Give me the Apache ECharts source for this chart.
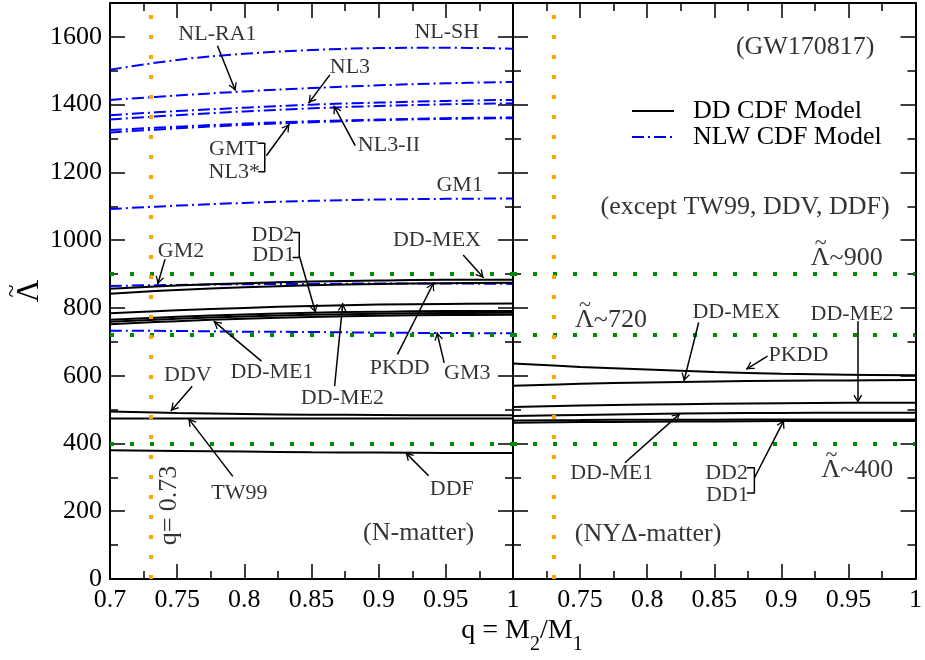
<!DOCTYPE html>
<html>
<head>
<meta charset="utf-8">
<script src="https://cdn.jsdelivr.net/npm/echarts@6/dist/echarts.min.js"></script>
<style>
  html, body { margin: 0; padding: 0; background: #fff; }
  #chart { width: 925px; height: 660px; }
</style>
</head>
<body>
<div id="chart"></div>
<script>
// Mass ratio samples shared by every curve
const qValues = [0.7, 0.75, 0.8, 0.85, 0.9, 0.95, 1.0];

// N-matter, NLW CDF models (tidal deformability vs q)
const nlwNames = ['NL-SH', 'NL-RA1', 'NL3', 'NL3-II', 'GMT', 'NL3*', 'GM1', 'GM2', 'GM3'];
const nlwNL_SH  = [1503, 1532, 1550, 1561, 1567, 1568, 1565];
const nlwNL_RA1 = [1414, 1427, 1439, 1449, 1457, 1463, 1467];
const nlwNL3    = [1369, 1381, 1391, 1400, 1406, 1411, 1414];
const nlwNL3_II = [1356, 1369, 1380, 1389, 1396, 1401, 1404];
const nlwGMT    = [1325, 1335, 1344, 1351, 1356, 1360, 1362];
const nlwNL3s   = [1318, 1330, 1340, 1348, 1354, 1358, 1360];
const nlwGM1    = [1092, 1102, 1110, 1116, 1120, 1122, 1123];
const nlwGM2    = [865, 868, 870, 871, 872, 872, 871];
const nlwGM3    = [733, 732, 730, 729, 727, 726, 725];

// N-matter, DD CDF models
const ddNames = ['DD-MEX', 'PKDD', 'DD-ME2', 'DD2', 'DD1', 'DD-ME1', 'DDV', 'TW99', 'DDF'];
const ddN_MEX = [857, 866, 873, 878, 881, 883, 883];
const ddN_PKDD = [842, 853, 861, 867, 871, 873, 874];
const ddN_ME2 = [784, 793, 800, 806, 810, 812, 813];
const ddN_DD2 = [765, 774, 781, 786, 789, 791, 791];
const ddN_DD1 = [759, 768, 775, 780, 783, 785, 786];
const ddN_ME1 = [752, 761, 768, 773, 777, 779, 780];
const ddN_DDV = [494, 490, 487, 485, 484, 483, 483];
const ddN_TW99 = [474, 474, 474, 474, 474, 474, 474];
const ddN_DDF = [380, 378, 376, 374, 373, 372, 372];

// NYΔ-matter, DD CDF models
const hypNames = ['PKDD', 'DD-MEX', 'DD-ME2', 'DD-ME1', 'DD2', 'DD1'];
const ddH_PKDD = [636, 626, 618, 611, 606, 603, 601];
const ddH_MEX  = [570, 576, 580, 583, 585, 586, 587];
const ddH_ME2  = [508, 512, 515, 517, 519, 520, 520];
const ddH_ME1  = [481, 484, 487, 489, 490, 491, 491];
const ddH_DD2  = [468, 469, 470, 470, 471, 471, 471];
const ddH_DD1  = [461, 463, 464, 465, 466, 466, 466];

// Reference levels
const lambdaLevels = [900, 720, 400];
const qMark = 0.73;

// Axis ranges and ticks
const yMin = 0, yMax = 1700, yStep = 200;
const xMin = 0.7, xMax = 1.0, xStep = 0.05;

// Curve labels [q, Λ, text] and arrows [[q0, Λ0], [q1, Λ1]] for each panel
const leftLabels = [
  [0.780, 1609, 'NL-RA1'], [0.9507, 1614, 'NL-SH'], [0.8786, 1510, 'NL3'],
  [0.9077, 1279, 'NL3-II'], [0.7919, 1267, 'GMT'], [0.7925, 1202, 'NL3*'],
  [0.9603, 1163, 'GM1'], [0.7529, 967, 'GM2'], [0.8213, 1016, 'DD2'],
  [0.8218, 957, 'DD1'], [0.9434, 1001, 'DD-MEX'], [0.873, 535, 'DD-ME2'],
  [0.9157, 621, 'PKDD'], [0.966, 607, 'GM3'], [0.8206, 609, 'DD-ME1'],
  [0.758, 601, 'DDV'], [0.7963, 254, 'TW99'], [0.9544, 266, 'DDF']
];
const leftArrows = [
  [[0.780, 1574], [0.7934, 1441]],
  [[0.8637, 1488], [0.8478, 1404]],
  [[0.8825, 1279], [0.8666, 1397]],
  [[0.8164, 1249], [0.8336, 1343]],
  [[0.741, 944], [0.7355, 870]],
  [[0.8409, 954], [0.8531, 786]],
  [[0.9629, 956], [0.9781, 889]],
  [[0.8672, 569], [0.8733, 814]],
  [[0.914, 663], [0.941, 875]],
  [[0.9488, 638], [0.9434, 728]],
  [[0.8127, 643], [0.7772, 761]],
  [[0.7612, 569], [0.7453, 496]],
  [[0.7914, 303], [0.7583, 474]],
  [[0.9372, 305], [0.920, 373]]
];
const leftBrackets = [
  [[0.8103, 1286], [0.8152, 1286], [0.8152, 1202], [0.8103, 1202]],
  [[0.836, 1023], [0.8409, 1023], [0.8409, 949], [0.836, 949]]
];
const rightLabels = [
  [0.8665, 788, 'DD-MEX'], [0.9527, 781, 'DD-ME2'], [0.9127, 661, 'PKDD'],
  [0.7736, 311, 'DD-ME1'], [0.8592, 311, 'DD2'], [0.8597, 248, 'DD1']
];
const rightArrows = [
  [[0.8384, 757], [0.8274, 584]],
  [[0.957, 761], [0.957, 520]],
  [[0.8897, 658], [0.8738, 619]],
  [[0.7834, 343], [0.8245, 488]],
  [[0.8799, 298], [0.902, 469]]
];
const rightBrackets = [
  [[0.8743, 328], [0.8799, 328], [0.8799, 254], [0.8743, 254]]
];

// Panel notes [q, Λ, text]
const leftNotes = [[0.9298, 134, '(N-matter)']];
const rightNotes = [
  [0.9178, 1570, '(GW170817)'],
  [0.873, 1097, '(except TW99, DDV, DDF)'],
  [0.8007, 131, '(NYΔ-matter)']
];
// Λ-tilde level tags [q, Λ, value]
const levelTags = [
  [0.9487, 952, '900'],
  [0.773, 769, '720'],
  [0.9567, 328, '400']
];

const FONT = 'Liberation Serif';
const DD_LABEL = 'DD CDF Model';
const NLW_LABEL = 'NLW CDF Model';
const dashDot = [12, 4, 2, 4];
// open arrow head, tip at the centre of its bounding box
const arrowHead = 'path://M0,0 L4.5,7.6 L3.3,8.2 L0,2.6 L-3.3,8.2 L-4.5,7.6 Z M-8.2,-8.2 L-8.19,-8.2 L-8.2,-8.19 Z M8.2,8.2 L8.19,8.2 L8.2,8.19 Z';

function pts(ys) { return qValues.map((q, i) => [q, ys[i]]); }

function curve(name, ys, panel, dashed) {
  return {
    type: 'line', name: name, xAxisIndex: panel * 2, yAxisIndex: panel * 2,
    data: pts(ys), smooth: 0.4, symbol: 'none', silent: true, z: 3,
    itemStyle: { color: dashed ? '#0000ff' : '#000000' },
    lineStyle: dashed ? { color: '#0000ff', width: 2, type: dashDot }
                      : { color: '#000000', width: 2, type: 'solid' }
  };
}

function guides(panel) {
  return {
    type: 'line', name: 'guides' + panel, xAxisIndex: panel * 2, yAxisIndex: panel * 2,
    data: [], silent: true,
    markLine: {
      silent: true, symbol: ['none', 'none'], animation: false,
      label: { show: false },
      data: lambdaLevels.map(v => ({ yAxis: v, lineStyle: { color: '#008c00', width: 4, type: [4, 16], cap: 'butt' } }))
        .concat([{ xAxis: qMark, lineStyle: { color: '#ffa500', width: 4, type: [4, 16], cap: 'butt' } }])
    }
  };
}

function arrows(panel, list) {
  return {
    type: 'line', name: 'arrows' + panel, xAxisIndex: panel * 2, yAxisIndex: panel * 2,
    data: [], silent: true, z: 5,
    markLine: {
      silent: true, animation: false, symbol: ['none', arrowHead], symbolSize: 16,
      label: { show: false },
      lineStyle: { color: '#000', width: 1.5, type: 'solid' },
      data: list.map(a => [{ coord: a[0] }, { coord: a[1] }])
    }
  };
}

function bracket(panel, p) {
  return {
    type: 'line', name: 'bracket', xAxisIndex: panel * 2, yAxisIndex: panel * 2,
    data: p, symbol: 'none', silent: true, z: 5,
    lineStyle: { color: '#000', width: 1.5 }
  };
}

function texts(panel, list, size, fmt, rich) {
  return {
    type: 'scatter', name: 'text', xAxisIndex: panel * 2, yAxisIndex: panel * 2,
    data: list, symbolSize: 1, silent: true, z: 6,
    itemStyle: { color: 'rgba(0,0,0,0)' },
    label: {
      show: true, position: 'inside', color: '#000', fontFamily: FONT, fontSize: size,
      formatter: fmt || (p => p.data[2]), rich: rich || {}
    }
  };
}

// Λ with a tilde set above it
const tildeRich = {
  t: { fontFamily: FONT, fontSize: 22, lineHeight: 4, align: 'left', padding: [0, 0, 0, 4], color: '#000' },
  b: { fontFamily: FONT, fontSize: 26, lineHeight: 26, color: '#000' }
};

const series = [];
series.push(guides(0), guides(1));
[nlwNL_SH, nlwNL_RA1, nlwNL3, nlwNL3_II, nlwGMT, nlwNL3s, nlwGM1, nlwGM2, nlwGM3]
  .forEach(ys => series.push(curve(NLW_LABEL, ys, 0, true)));
[ddN_MEX, ddN_PKDD, ddN_ME2, ddN_DD2, ddN_DD1, ddN_ME1, ddN_DDV, ddN_TW99, ddN_DDF]
  .forEach(ys => series.push(curve(DD_LABEL, ys, 0, false)));
[ddH_PKDD, ddH_MEX, ddH_ME2, ddH_ME1, ddH_DD2, ddH_DD1]
  .forEach(ys => series.push(curve(DD_LABEL, ys, 1, false)));
series.push(arrows(0, leftArrows), arrows(1, rightArrows));
leftBrackets.forEach(b => series.push(bracket(0, b)));
rightBrackets.forEach(b => series.push(bracket(1, b)));
series.push(texts(0, leftLabels, 22), texts(1, rightLabels, 22));
series.push(texts(0, leftNotes, 26), texts(1, rightNotes, 26));
series.push(texts(1, levelTags, 26, p => '{t|~}\n{b|Λ~' + p.data[2] + '}', tildeRich));
// q = 0.73 marker text, rotated
series.push({
  type: 'scatter', name: 'qtext', xAxisIndex: 0, yAxisIndex: 0,
  data: [[0.7441, 217, 'q= 0.73']], symbolSize: 1, silent: true, z: 6,
  itemStyle: { color: 'rgba(0,0,0,0)' },
  label: { show: true, position: 'inside', rotate: 90, color: '#000', fontFamily: FONT, fontSize: 26, formatter: p => p.data[2] }
});

const tickLine = { color: '#000', width: 1.5 };

function xAxis(grid, pos, showLabels, hideMin) {
  return {
    type: 'value', gridIndex: grid, position: pos, min: xMin, max: xMax, interval: xStep,
    axisLine: { show: true, onZero: false, lineStyle: { color: '#000', width: 2 } },
    axisTick: { show: true, inside: true, length: 15, lineStyle: tickLine },
    minorTick: { show: true, splitNumber: 2, length: 8, lineStyle: tickLine },
    splitLine: { show: false },
    axisLabel: {
      show: showLabels, color: '#000', fontFamily: FONT, fontSize: 26, margin: 8,
      showMinLabel: !hideMin,
      formatter: v => String(+v.toFixed(2))
    }
  };
}

function yAxis(grid, pos, showLabels) {
  return {
    type: 'value', gridIndex: grid, position: pos, min: yMin, max: yMax, interval: yStep,
    axisLine: { show: true, onZero: false, lineStyle: { color: '#000', width: 2 } },
    axisTick: { show: true, inside: true, length: 15, lineStyle: tickLine },
    minorTick: { show: true, splitNumber: 2, length: 8, lineStyle: tickLine },
    splitLine: { show: false },
    name: showLabels ? '{t|~}\n{b|Λ}' : '',
    nameLocation: 'middle', nameGap: 66, nameRotate: 90,
    nameTextStyle: {
      color: '#000', fontFamily: FONT, fontSize: 30,
      rich: {
        t: { fontFamily: FONT, fontSize: 24, lineHeight: 6, color: '#000' },
        b: { fontFamily: FONT, fontSize: 31, lineHeight: 28, color: '#000' }
      }
    },
    axisLabel: {
      show: showLabels, color: '#000', fontFamily: FONT, fontSize: 26, margin: 8,
      showMaxLabel: false,
      formatter: v => String(v)
    }
  };
}

const option = {
  animation: false,
  backgroundColor: '#fff',
  grid: [
    { left: 105, top: 3, width: 408, height: 576 },
    { left: 513, top: 3, width: 409, height: 576 }
  ],
  xAxis: [
    xAxis(0, 'bottom', true, false), xAxis(0, 'top', false, false),
    xAxis(1, 'bottom', true, true), xAxis(1, 'top', false, false)
  ],
  yAxis: [
    yAxis(0, 'left', true), yAxis(0, 'right', false),
    yAxis(1, 'left', false), yAxis(1, 'right', false)
  ],
  legend: {
    data: [DD_LABEL, NLW_LABEL], orient: 'vertical', left: 626, top: 93,
    itemWidth: 42, itemHeight: 14, itemGap: 0, selectedMode: false,
    itemStyle: { opacity: 0, color: 'rgba(0,0,0,0)', borderWidth: 0 },
    textStyle: { color: '#000', fontFamily: FONT, fontSize: 26, lineHeight: 26, padding: [0, 0, 0, 14] }
  },
  graphic: [{
    type: 'text', x: 522, y: 617, z: 10,
    style: {
      text: '{m|q = M}{s|2}{m|/M}{s|1}',
      align: 'center', verticalAlign: 'top',
      rich: {
        m: { fontFamily: FONT, fontSize: 28, lineHeight: 28, verticalAlign: 'top', fill: '#000' },
        s: { fontFamily: FONT, fontSize: 20, lineHeight: 20, verticalAlign: 'top', padding: [18, 0, 0, 0], fill: '#000' }
      }
    }
  }],
  series: series
};

const chart = echarts.init(document.getElementById('chart'), null, { renderer: 'canvas' });
chart.setOption(option);
</script>
</body>
</html>
